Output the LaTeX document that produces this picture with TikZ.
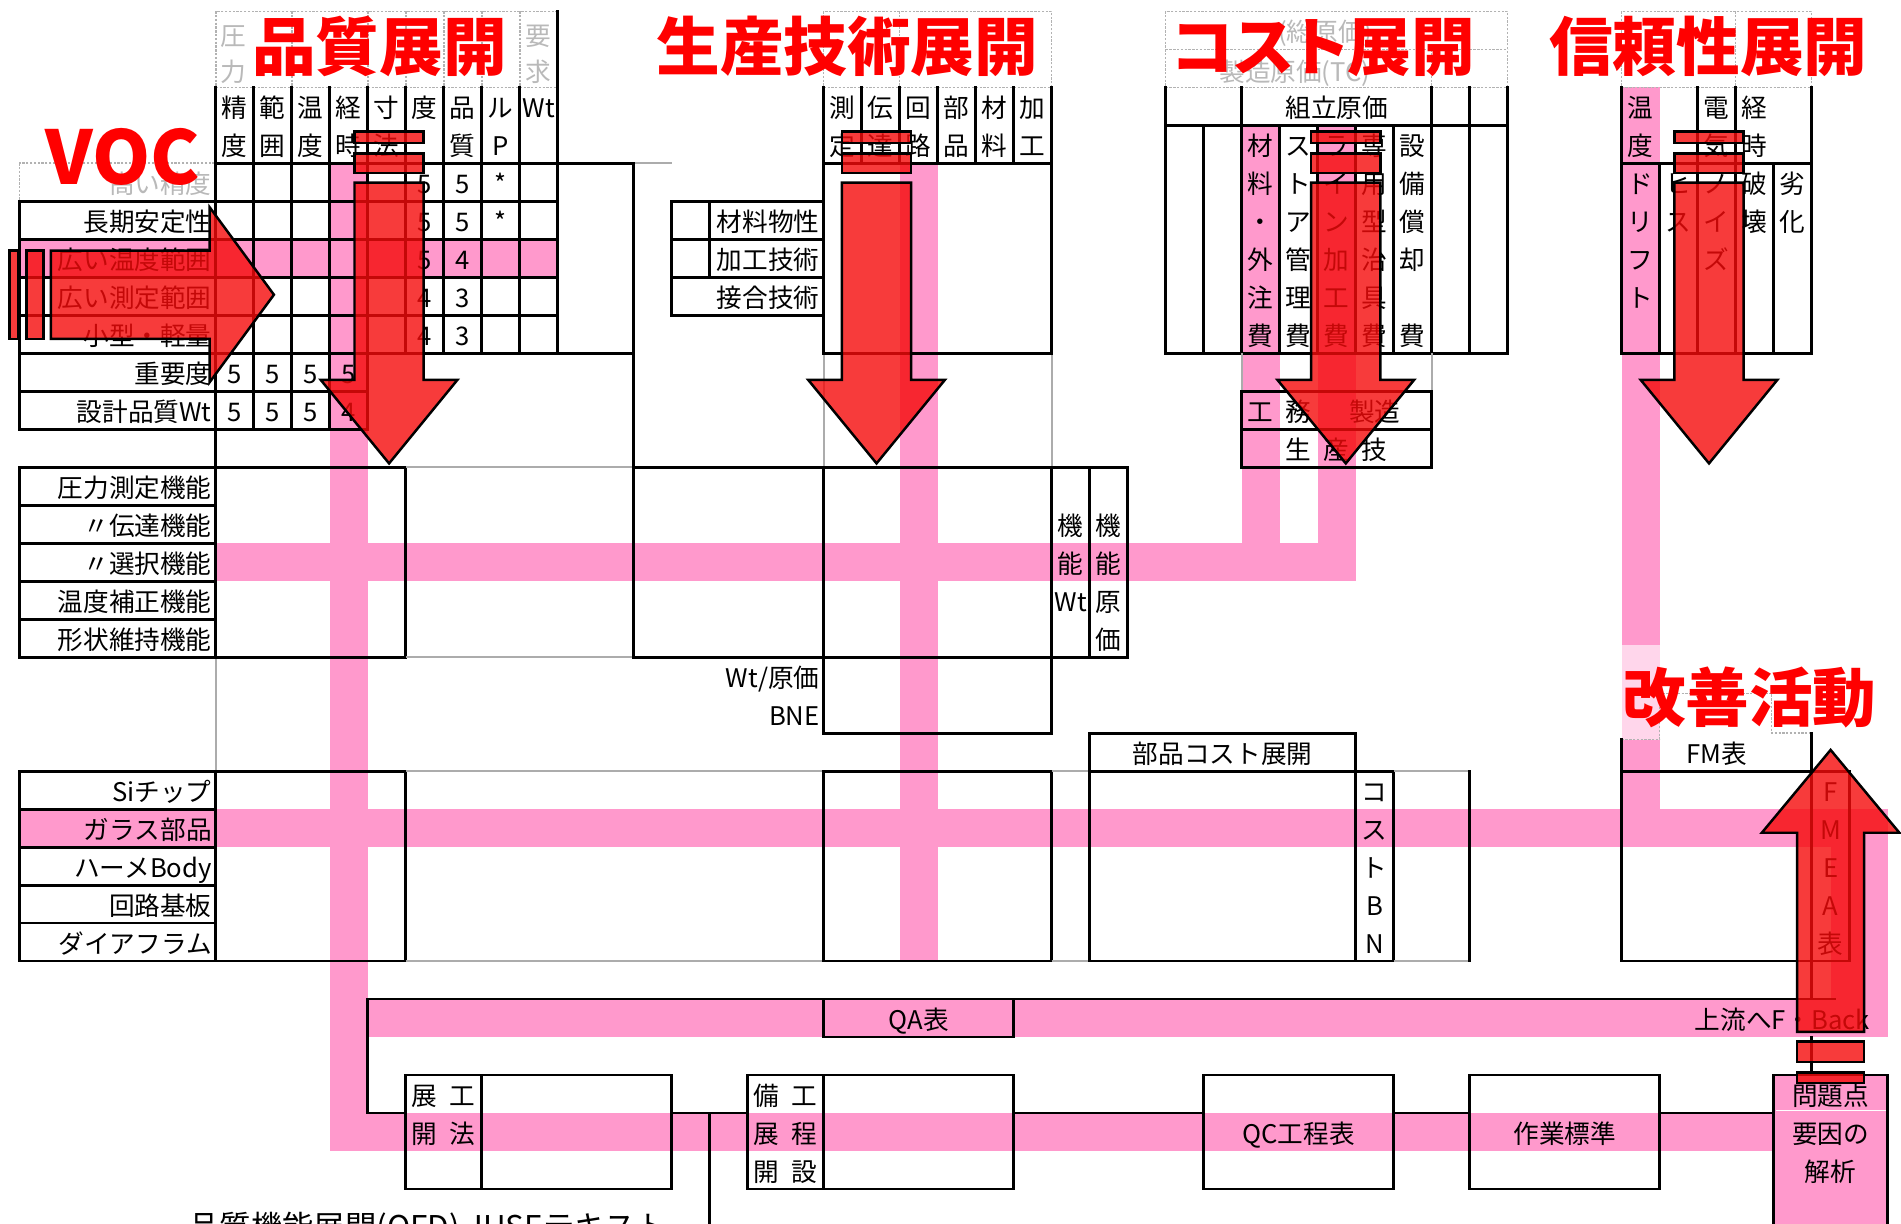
\documentclass[tikz,border=0pt]{standalone}
\usepackage{fontspec}
\newfontfamily\jp{Noto Sans CJK JP}
\definecolor{pk}{HTML}{FF99CC}
\definecolor{arr}{RGB}{245,10,10}
\newcommand{\vcol}[4]{\foreach \c [count=\i] in {#4} {\node[tx] (#1\i) at (#2,#3+\i-1) {\c};}}
\newcommand{\hrow}[4]{\foreach \c [count=\i] in {#4} {\node[tx] (#1\i) at (#2+\i-1,#3) {\c};}}
\newcommand{\DArr}[1]{%
  \begin{scope}[shift={(#1,0)}]
    \draw[rarrow] (-0.91,1.16) rectangle (0.91,1.46);
    \draw[rarrow] (-0.91,1.74) rectangle (0.91,2.25);
    \draw[rarrow] (-0.91,2.51) -- (-0.91,7.7) -- (-1.8,7.7) -- (0,9.9) -- (1.8,7.7) -- (0.91,7.7) -- (0.91,2.51) -- cycle;
  \end{scope}}
\begin{document}
\begin{tikzpicture}[x=20pt,y=-20pt,
  tx/.style={font=\jp\fontsize{13.5}{14}\selectfont, inner sep=0pt, text height=11.8pt, text depth=0pt},
  faint/.style={tx, text=gray!55},
  ttl/.style={font=\jp\bfseries\fontsize{33.5}{36}\selectfont\addfontfeatures{RawFeature=+palt}, text=red, inner sep=0pt, text height=25.5pt, text depth=0pt},
  ln/.style={line width=1.4pt, line cap=rect},
  gl/.style={line width=1.1pt, draw=gray!65},
  dsh/.style={draw=gray!60, line width=0.8pt, dash pattern=on 1.2pt off 0.8pt},
  rarrow/.style={fill=arr, fill opacity=0.8, draw=black, line width=1.3pt, line join=miter},
  box/.style={draw, line width=1.4pt, inner sep=0pt, font=\jp\fontsize{13.5}{14}\selectfont, text height=11.8pt, text depth=0pt}
]
\useasboundingbox (-5.68,-2.297) rectangle (44.353,29.898);
\fill[white] (-5.68,-2.297) rectangle (44.353,29.898);

% ---------------- pink bands ----------------
\fill[pk] (3,2) rectangle (4,28);
\fill[pk] (18,2) rectangle (19,23);
\fill[pk] (-5.17,4) rectangle (9,5);
\fill[pk] (0,12) rectangle (30,13);
\fill[pk] (27,1) rectangle (28,13);
\fill[pk] (29,1) rectangle (30,13);
\fill[pk] (37,0) rectangle (38,14.68);
\fill[pk!40] (37,14.68) rectangle (38,17.17);
\fill[pk] (37,17.17) rectangle (38,20);
\fill[pk] (-5.17,19) rectangle (44,20);
\fill[pk] (42.5,19) rectangle (44,25);
\fill[pk] (3,24) rectangle (44,25);
\fill[pk] (3,27) rectangle (41,28);

% ---------------- dashed headers ----------------
\draw[dsh] (0,-2) rectangle (9,0);
\foreach \x in {2,4,5,6,7,8} \draw[dsh] (\x,-2) -- (\x,0);
\draw[dsh] (-5.17,2) rectangle (0,3);
\draw[dsh] (16,-2) rectangle (22,0);
\draw[dsh] (18,-2) -- (18,0);
\draw[dsh] (25,-2) rectangle (34,0);
\draw[dsh] (25,-1) -- (34,-1);
\draw[dsh] (32,-1) -- (32,0);
\draw[dsh] (37,-2) rectangle (42,0);
\draw[dsh] (40,-2) -- (40,0);
\draw[dsh] (37,17.17) -- (38,17.17) -- (38,15.95) -- (40.95,15.95) -- (40.95,17) -- (42,17);

\node[faint] (f1) at (0.45,-1.4) {圧};
\node[faint] (f2) at (0.45,-0.45) {力};
\node[faint] (f3) at (8.5,-1.4) {要};
\node[faint] (f4) at (8.5,-0.45) {求};
\node[faint] (f5) at (29.2,-1.5) {(総原価)};
\node[faint] (f6) at (28.4,-0.45) {製造原価(TC)};
\node[faint, anchor=east] (f7) at (-0.1,2.5) {高い精度};

% ---------------- QFD matrix ----------------
\foreach \x in {1,...,8} \draw[ln] (\x,0) -- (\x,7);
\draw[ln] (0,0) -- (0,15);
\draw[gl] (0,15) -- (0,18);
\draw[ln] (0,18) -- (0,23);
\draw[ln] (9,-2) -- (9,7);
\draw[ln] (0,2) -- (11,2);
\draw[gl] (11,2) -- (12,2);
\foreach \y in {3,4,5,6} \draw[ln] (-5.17,\y) -- (9,\y);
\draw[ln] (-5.17,7) -- (11,7);
\draw[ln] (-5.17,8) -- (4,8);
\draw[ln] (-5.17,9) -- (4,9);
\foreach \x in {1,2,3,4} \draw[ln] (\x,7) -- (\x,9);
\draw[ln] (-5.17,3) -- (-5.17,9);
\draw[ln] (11,2) -- (11,15);

% ---------------- function table ----------------
\draw[ln] (-5.17,10) rectangle (5,15);
\foreach \y in {11,...,14} \draw[ln] (-5.17,\y) -- (0,\y);
\draw[gl] (5,10) -- (11,10);
\draw[gl] (5,15) -- (11,15);
\draw[ln] (11,10) -- (24,10);
\draw[ln] (11,15) -- (24,15);
\draw[ln] (23,10) -- (23,15);
\draw[ln] (24,10) -- (24,15);
\foreach \x in {16,22} {
  \draw[ln] (\x,0) -- (\x,7);
  \draw[gl] (\x,7) -- (\x,10);
  \draw[ln] (\x,10) -- (\x,17);
}
\draw[ln] (16,2) -- (22,2);
\draw[ln] (16,7) -- (22,7);
\draw[ln] (16,17) -- (22,17);
\foreach \x in {17,...,21} \draw[ln] (\x,0) -- (\x,2);

% materials
\draw[ln] (12,3) rectangle (16,6);
\draw[ln] (12,4) -- (16,4);
\draw[ln] (12,5) -- (16,5);
\draw[ln] (13,3) -- (13,5);

% ---------------- parts table ----------------
\draw[ln] (-5.17,18) rectangle (5,23);
\foreach \y in {19,...,22} \draw[ln] (-5.17,\y) -- (0,\y);
\draw[gl] (5,18) -- (16,18);
\draw[gl] (5,23) -- (16,23);
\draw[ln] (16,18) rectangle (22,23);
\draw[gl] (22,18) -- (23,18);
\draw[gl] (22,23) -- (23,23);
\draw[ln] (23,17) rectangle (30,23);
\draw[ln] (23,18) -- (30,18);
\draw[ln] (30,18) rectangle (31,23);
\draw[gl] (31,18) -- (33,18);
\draw[gl] (31,23) -- (33,23);
\draw[ln] (33,18) -- (33,23);

% ---------------- cost table ----------------
\foreach \x in {25,27,32,33,34} \draw[ln] (\x,0) -- (\x,7);
\foreach \x in {26,28,29,30,31} \draw[ln] (\x,1) -- (\x,7);
\draw[ln] (25,1) -- (34,1);
\draw[ln] (25,7) -- (34,7);
\draw[gl] (27,7) -- (27,8);
\draw[gl] (32,7) -- (32,8);
\draw[ln] (27,8) rectangle (32,10);
\draw[ln] (27,9) -- (32,9);

% ---------------- reliability table ----------------
\foreach \x in {37,39,40,42} \draw[ln] (\x,0) -- (\x,7);
\foreach \x in {38,41} \draw[ln] (\x,2) -- (\x,7);
\draw[ln] (37,2) -- (42,2);
\draw[ln] (37,7) -- (42,7);

% ---------------- FM table ----------------
\draw[ln] (37,17.17) -- (37,23);
\draw[ln] (42,17) -- (42,24);
\draw[ln] (37,18) -- (43,18);
\draw[ln] (37,23) -- (43,23);
\draw[ln] (43,18) -- (43,23);

% ---------------- QA row & bottom flow ----------------
\node[box, minimum width=100pt, minimum height=20pt] (qa) at (18.5,24.5) {QA表};
\draw[ln] (4,27) -- (4,24) -- (42.6,24);
\node[box, minimum width=140pt, minimum height=60pt] (b1) at (8.5,27.5) {};
\node[box, minimum width=140pt, minimum height=60pt] (b2) at (17.5,27.5) {};
\node[box, minimum width=100pt, minimum height=60pt] (b3) at (28.5,27.5) {QC工程表};
\node[box, minimum width=100pt, minimum height=60pt] (b4) at (35.5,27.5) {作業標準};
\node[box, fill=pk, minimum width=60pt, minimum height=80pt] (b5) at (42.5,28) {};
\draw[white, line width=0.8pt] (41.05,26.93) -- (43.95,26.93);
\draw[ln] (7,26) -- (7,29);
\draw[ln] (16,26) -- (16,29);
\coordinate (c27) at (0,27);
\coordinate (qaL) at (4,27);
\coordinate (jn) at (13,27);
\coordinate (jb) at (13,30.5);
\coordinate (fmA) at (42,25);
\coordinate (fmB) at (42,26);
\draw[ln] (qaL) -- (b1.west |- c27);
\draw[ln] (b1.east |- c27) -- (b2.west |- c27);
\draw[ln] (jn) -- (jb);
\draw[ln] (b2.east |- c27) -- (b3.west |- c27);
\draw[ln] (b3.east |- c27) -- (b4.west |- c27);
\draw[ln] (b4.east |- c27) -- (b5.west |- c27);
\draw[ln] (fmA) -- (fmB);

% ---------------- texts ----------------
\hrow{qa}{0.5}{0.5}{精,範,温,経,寸,度,品,ル,Wt}
\hrow{qb}{0.5}{1.5}{度,囲,度,時,法}
\node[tx] (qb7) at (6.5,1.5) {質};
\node[tx] (qb8) at (7.5,1.5) {P};
\vcol{va}{5.5}{2.5}{5,5,5,4,4}
\vcol{vb}{6.5}{2.5}{5,5,4,3,3}
\vcol{vc}{7.5}{2.5}{*,*}
\hrow{ia}{0.5}{7.5}{5,5,5,5}
\hrow{ib}{0.5}{8.5}{5,5,5,4}
\foreach \t [count=\i] in {長期安定性,広い温度範囲,広い測定範囲,小型・軽量,重要度,設計品質Wt}
  {\node[tx, anchor=east] (la\i) at (-0.1,\i+2.5) {\t};}
\foreach \t [count=\i] in {圧力測定機能,〃伝達機能,〃選択機能,温度補正機能,形状維持機能}
  {\node[tx, anchor=east] (lb\i) at (-0.1,\i+9.5) {\t};}
\foreach \t [count=\i] in {Siチップ,ガラス部品,ハーメBody,回路基板,ダイアフラム}
  {\node[tx, anchor=east] (lc\i) at (-0.1,\i+17.5) {\t};}
\foreach \t [count=\i] in {材料物性,加工技術,接合技術}
  {\node[tx, anchor=east] (lm\i) at (15.9,\i+2.5) {\t};}
\node[tx, anchor=east] (wtg) at (15.9,15.5) {Wt/原価};
\node[tx, anchor=east] (bne) at (15.9,16.5) {BNE};
\hrow{pa}{16.5}{0.5}{測,伝,回,部,材,加}
\hrow{pb}{16.5}{1.5}{定,達,路,品,料,工}
\vcol{kw}{22.5}{11.5}{機,能,Wt}
\vcol{kg}{23.5}{11.5}{機,能,原,価}
\node[tx] (kumi) at (29.5,0.5) {組立原価};
\vcol{ca}{27.5}{1.5}{材,料,・,外,注,費}
\vcol{cb}{28.5}{1.5}{ス,ト,ア,管,理,費}
\vcol{cc}{29.5}{1.5}{ラ,イ,ン,加,工,費}
\vcol{cd}{30.5}{1.5}{専,用,型,治,具,費}
\vcol{ce}{31.5}{1.5}{設,備,償,却}
\node[tx] (ce6) at (31.5,6.5) {費};
\node[tx] (km1) at (27.5,8.5) {工};
\node[tx] (km2) at (28.5,8.5) {務};
\node[tx] (km3) at (30.5,8.5) {製造};
\hrow{sg}{28.5}{9.5}{生,産,技}
\vcol{ra}{37.5}{0.5}{温,度}
\vcol{rb}{39.5}{0.5}{電,気}
\vcol{rc}{40.5}{0.5}{経,時}
\vcol{rd}{37.5}{2.5}{ド,リ,フ,ト}
\vcol{re}{38.5}{2.5}{ヒ,ス}
\vcol{rf}{39.5}{2.5}{ノ,イ,ズ}
\vcol{rg}{40.5}{2.5}{破,壊}
\vcol{rh}{41.5}{2.5}{劣,化}
\node[tx] (bhc) at (26.5,17.5) {部品コスト展開};
\vcol{bn}{30.5}{18.5}{コ,ス,ト,B,N}
\node[tx] (fmt) at (39.5,17.5) {FM表};
\vcol{fm}{42.5}{18.5}{F,M,E,A,表}
\node[tx, anchor=east] (fb) at (43.55,24.5) {上流へF・Back};
\node[tx] (e1) at (5.5,26.5) {展};
\node[tx] (e2) at (6.5,26.5) {工};
\node[tx] (e3) at (5.5,27.5) {開};
\node[tx] (e4) at (6.5,27.5) {法};
\vcol{ga}{14.5}{26.5}{備,展,開}
\vcol{gb}{15.5}{26.5}{工,程,設}
\node[tx] (m1) at (42.5,26.5) {問題点};
\node[tx] (m2) at (42.5,27.5) {要因の};
\node[tx] (m3) at (42.5,28.5) {解析};
\node[tx, anchor=west, font=\jp\fontsize{16.5}{17}\selectfont, text height=14pt] (src) at (-0.73,29.95) {品質機能展開(QFD) JUSEテキスト};

% ---------------- red arrows ----------------
\DArr{4.56}
\DArr{17.39}
\DArr{29.74}
\DArr{39.3}
\draw[rarrow] (-5.43,4.3) rectangle (-5.2,6.62);
\draw[rarrow] (-4.98,4.3) rectangle (-4.53,6.62);
\draw[rarrow] (-4.34,4.3) -- (-0.16,4.3) -- (-0.16,3.16) -- (1.53,5.46) -- (-0.16,7.76) -- (-0.16,6.62) -- (-4.34,6.62) -- cycle;
\draw[rarrow] (41.62,25.93) rectangle (43.38,26.2);
\draw[rarrow] (41.62,25.11) rectangle (43.38,25.65);
\draw[rarrow] (41.62,24.86) -- (41.62,19.62) -- (40.69,19.62) -- (42.5,17.44) -- (44.31,19.62) -- (43.38,19.62) -- (43.38,24.86) -- cycle;

% ---------------- titles ----------------
\node[ttl] (t1) at (4.31,-1.085) {品質展開};
\node[ttl] (t2) at (16.62,-1.085) {生産技術展開};
\node[ttl] (t3) at (29.15,-1.085) {コスト展開};
\node[ttl] (t4) at (39.28,-1.085) {信頼性展開};
\node[ttl] (t5) at (40.36,16.05) {改善活動};
\node[ttl, font=\jp\bfseries\fontsize{39}{40}\selectfont, text height=25.7pt] (t6) at (-2.44,1.91) {VOC};
\end{tikzpicture}
\end{document}
